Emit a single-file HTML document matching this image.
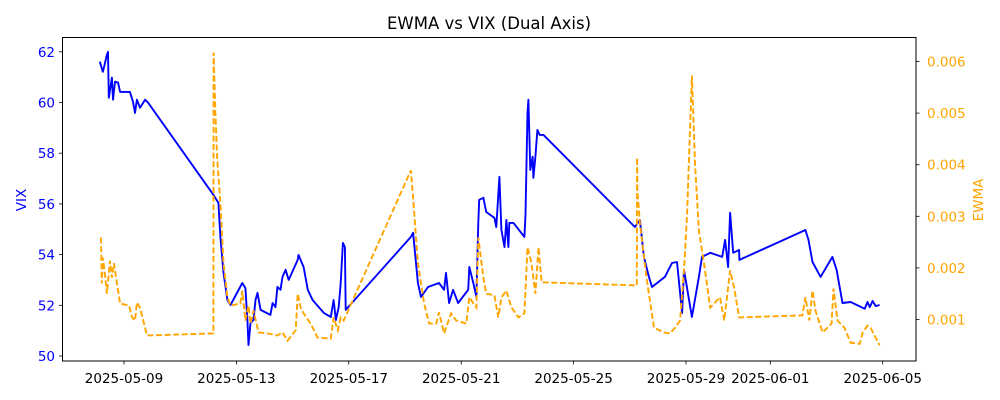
<!DOCTYPE html>
<html><head><meta charset="utf-8"><style>
html,body{margin:0;padding:0;background:#fff;}
svg{display:block;font-family:"DejaVu Sans","Liberation Sans",sans-serif;}
</style></head><body>
<svg id="chart" width="1000" height="400" viewBox="0 0 1000 400" xmlns="http://www.w3.org/2000/svg">
<rect x="0" y="0" width="1000" height="400" fill="#fff"/>
<text x="489" y="29" font-size="16.5" text-anchor="middle" fill="#000">EWMA vs VIX (Dual Axis)</text>
<g id="grid"></g>
<g id="series"></g>
<rect x="62.5" y="37.5" width="853.5" height="323.5" fill="none" stroke="#000" stroke-width="1"/>
<g id="axes"></g>
<text x="0" y="0" transform="translate(26,200) rotate(-90)" font-size="13.5" text-anchor="middle" fill="#0000ff">VIX</text>
<text x="0" y="0" transform="translate(983,200) rotate(-90)" font-size="13.5" text-anchor="middle" fill="#ffa500">EWMA</text>
</svg>
<script>
// days since 2025-05-08 00:00
const vixTimes=[0.14,0.25,0.39,0.43,0.46,0.57,0.61,0.68,0.79,0.86,1.21,1.32,1.39,1.46,1.57,1.75,1.86,4.18,4.36,4.43,4.54,4.68,4.79,5.21,5.32,5.39,5.43,5.5,5.61,5.68,5.75,5.86,6.21,6.29,6.39,6.46,6.57,6.64,6.75,6.86,7.18,7.21,7.39,7.54,7.71,8.11,8.36,8.46,8.54,8.64,8.71,8.79,8.86,8.89,11.21,11.29,11.46,11.57,11.82,12.21,12.39,12.46,12.57,12.71,12.89,13.25,13.29,13.43,13.54,13.61,13.64,13.79,13.89,14.18,14.25,14.36,14.43,14.54,14.61,14.68,14.71,14.86,15.25,15.29,15.36,15.39,15.46,15.54,15.57,15.64,15.71,15.79,15.93,19.18,19.36,19.5,19.68,19.79,20.25,20.5,20.68,20.86,20.93,21.21,21.46,21.57,21.86,22.29,22.39,22.5,22.57,22.68,22.89,22.9,25.25,25.36,25.5,25.79,26.21,26.36,26.57,26.86,27.36,27.46,27.54,27.64,27.75,27.89];
const vixValues=[61.61,61.21,61.88,62.0,60.19,60.98,60.11,60.82,60.78,60.42,60.42,60.03,59.59,60.11,59.79,60.11,59.99,56.36,56.04,54.7,53.28,52.21,52.01,52.88,52.68,51.42,50.43,51.3,51.42,52.21,52.49,51.82,51.62,52.09,51.93,52.72,52.61,53.12,53.4,53.0,53.79,53.99,53.51,52.61,52.21,51.7,51.54,52.21,51.42,51.93,52.88,54.46,54.3,51.82,54.7,54.86,52.88,52.33,52.72,52.88,52.61,53.28,52.09,52.61,52.09,52.61,53.51,52.88,52.33,55.25,56.16,56.24,55.68,55.45,55.09,57.07,54.97,54.3,55.37,54.3,55.25,55.25,54.7,55.57,59.59,60.11,57.34,57.86,57.03,57.86,58.92,58.72,58.72,55.09,55.37,53.91,53.12,52.72,53.12,53.67,53.71,51.7,53.4,51.54,53.12,53.91,54.07,53.91,54.58,53.51,55.65,54.07,54.18,53.79,54.97,54.58,53.71,53.12,53.91,53.4,52.09,52.13,51.86,52.13,51.93,52.17,51.97,52.01];
const ewmaTimes=[0.18,0.21,0.25,0.32,0.39,0.5,0.57,0.64,0.75,0.86,1.18,1.29,1.39,1.46,1.57,1.82,4.18,4.19,4.25,4.32,4.43,4.54,4.68,4.79,5.14,5.21,5.32,5.43,5.5,5.61,5.79,6.11,6.46,6.64,6.82,7.11,7.18,7.29,7.39,7.64,7.89,8.36,8.46,8.61,8.71,8.82,11.21,11.29,11.46,11.68,11.86,12.11,12.21,12.39,12.64,12.82,13.18,13.29,13.54,13.61,13.79,13.89,14.18,14.32,14.43,14.61,14.79,15.04,15.25,15.36,15.5,15.64,15.75,15.86,19.25,19.26,19.27,19.36,19.61,19.86,20.21,20.43,20.61,20.79,20.93,21.04,21.21,21.32,21.46,21.64,21.86,22.21,22.36,22.46,22.57,22.71,22.89,25.14,25.25,25.39,25.5,25.61,25.86,26.18,26.25,26.39,26.64,26.86,27.18,27.29,27.46,27.57,27.89];
const ewmaValues=[0.00259,0.0017,0.0022,0.00189,0.0015,0.00214,0.00181,0.00209,0.0017,0.00131,0.00127,0.00104,0.00098,0.00133,0.00123,0.00069,0.00073,0.00617,0.00505,0.00408,0.00325,0.00209,0.00143,0.00127,0.00131,0.00156,0.00098,0.00127,0.00092,0.00117,0.00075,0.00073,0.00069,0.00075,0.00059,0.00079,0.0015,0.00123,0.00112,0.00092,0.00065,0.00063,0.00104,0.00079,0.00104,0.00098,0.00389,0.00336,0.00209,0.00131,0.00092,0.00092,0.00114,0.00073,0.00112,0.00098,0.00092,0.00143,0.00123,0.00259,0.00181,0.0015,0.00147,0.00104,0.00143,0.00156,0.00123,0.00104,0.00112,0.0024,0.00209,0.0015,0.0024,0.00172,0.00166,0.00414,0.0035,0.00286,0.00176,0.00084,0.00075,0.00073,0.00084,0.00098,0.00195,0.00305,0.00573,0.00402,0.00272,0.00209,0.00123,0.00143,0.00098,0.00143,0.00195,0.00162,0.00104,0.00108,0.00143,0.00098,0.00156,0.00117,0.00075,0.00092,0.0016,0.00098,0.00084,0.00055,0.00053,0.00075,0.00088,0.00084,0.0005];
const xTickDays=[1,5,9,13,17,21,24,28];
const xTickLabels=["2025-05-09","2025-05-13","2025-05-17","2025-05-21","2025-05-25","2025-05-29","2025-06-01","2025-06-05"];
const vixTicks=[50,52,54,56,58,60,62];
const ewmaTicks=[0.001,0.002,0.003,0.004,0.005,0.006];

const NS="http://www.w3.org/2000/svg";
function X(d){return 95.9+d*28.1;}
function YL(v){return 356-(v-50)*25.35;}
function YR(e){return 319.5-(e-0.001)*51600;}
function mk(tag,attrs,parent){const el=document.createElementNS(NS,tag);for(const k in attrs)el.setAttribute(k,attrs[k]);parent.appendChild(el);return el;}

const series=document.getElementById('series');
let d1=vixTimes.map((t,i)=>(i?'L':'M')+X(t).toFixed(1)+','+YL(vixValues[i]).toFixed(1)).join('');
const vp=mk('path',{d:d1,fill:'none',stroke:'#0000ff','stroke-width':1.9,'stroke-linejoin':'round'},series);


let d2=ewmaTimes.map((t,i)=>(i?'L':'M')+X(t).toFixed(1)+','+YR(ewmaValues[i]).toFixed(1)).join('');
const ep=mk('path',{d:d2,fill:'none',stroke:'#ffa500','stroke-width':1.9,'stroke-dasharray':'6,2.6'},series);



const axes=document.getElementById('axes');
xTickDays.forEach((d,i)=>{
  const x=X(d);
  const tk=mk('line',{x1:x,x2:x,y1:361,y2:364.5,stroke:'#000','stroke-width':0.8},axes);
  
  
  const tx=mk('text',{x:x,y:383,'font-size':13.5,'text-anchor':'middle',fill:'#000'},axes);
  tx.textContent=xTickLabels[i];
  
  
});
vixTicks.forEach(v=>{
  const y=YL(v);
  const tk=mk('line',{x1:59,x2:62.5,y1:y,y2:y,stroke:'#000','stroke-width':0.8},axes);
  
  
  const tx=mk('text',{x:55,y:y+5,'font-size':13.5,'text-anchor':'end',fill:'#0000ff'},axes);
  tx.textContent=String(v);
  
  
});
ewmaTicks.forEach(e=>{
  const y=YR(e);
  const tk=mk('line',{x1:916,x2:919.5,y1:y,y2:y,stroke:'#000','stroke-width':0.8},axes);
  
  
  const tx=mk('text',{x:927,y:y+5,'font-size':13.5,'text-anchor':'start',fill:'#ffa500'},axes);
  tx.textContent=e.toFixed(3);
  
  
});
</script>
</body></html>
